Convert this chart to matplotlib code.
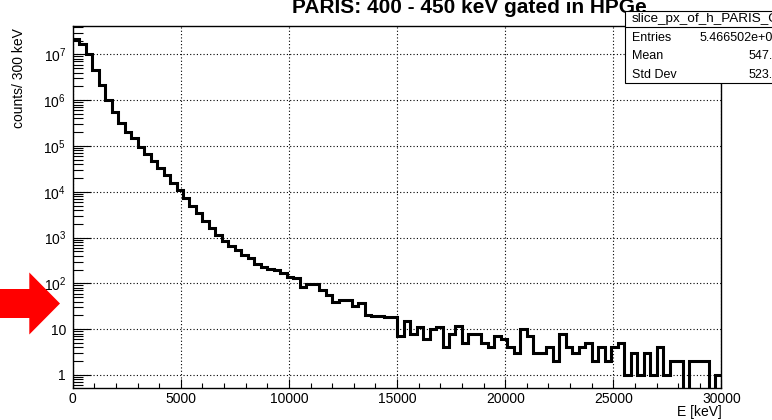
import numpy as np
import matplotlib.pyplot as plt
from matplotlib.patches import Rectangle, Polygon
from matplotlib.lines import Line2D
from matplotlib.ticker import LogLocator, MultipleLocator, NullFormatter

plt.rcParams['font.family'] = ['Liberation Sans', 'DejaVu Sans']
plt.rcParams['mathtext.fontset'] = 'custom'
plt.rcParams['mathtext.rm'] = 'Liberation Sans'
plt.rcParams['mathtext.it'] = 'Liberation Sans:italic'

# 100 bins of 300 keV from 0 to 30 MeV
edges = np.arange(0, 30001, 300)
counts = np.array([
    2.17e7, 1.7e7, 1.0e7, 4.6e6, 2.15e6, 1.0e6, 5.6e5, 3.1e5, 2.07e5, 1.47e5,
    9.7e4, 6.6e4, 4.6e4, 3.25e4, 2.3e4, 1.55e4, 1.07e4, 7.3e3, 4.9e3, 3.45e3,
    2340, 1600, 1120, 850, 650, 530, 420, 350, 270, 230,
    210, 197, 166, 137, 131, 84, 98, 98, 70, 57,
    40, 43, 43, 32, 38, 20, 19, 19, 18, 18,
    7, 15, 8, 11, 6, 10, 11, 4, 8, 12,
    5, 8, 8, 5, 4, 7, 6, 4, 3, 10,
    7, 3, 3, 4, 2, 8, 4, 3, 4, 5,
    2, 4, 2, 4, 5, 1, 3, 1, 3, 1,
    4, 1, 2, 2, 0, 2, 2, 2, 0, 1,
])

title = "PARIS: 400 - 450 keV gated in HPGe"
stats_name = "slice_px_of_h_PARIS_Ge"
stats_rows = [("Entries", "5.466502e+07"), ("Mean", "547.6"), ("Std Dev", "523.4")]

W, H = 772, 420


def fx(px):
    return px / W


def fy(py):
    return 1 - py / H


fig = plt.figure(figsize=(W / 100, H / 100), dpi=100)
ax = fig.add_axes([fx(72.7), fy(387.5), (721.5 - 72.7) / W, (387.5 - 26) / H])

# empty bins drop to the bottom of the frame on the log scale
shown = np.where(counts > 0, counts, 1e-2)
st = ax.stairs(shown, edges, baseline=None, color='black', lw=2.2, zorder=3)
st.set_joinstyle('miter')

ax.set_yscale('log')
ax.set_xlim(0, 30000)
ax.set_ylim(0.533, 4.17e7)

ax.set_xticks(np.arange(0, 30001, 5000))
ax.set_xticklabels([str(v) for v in range(0, 30001, 5000)])
ax.xaxis.set_minor_locator(MultipleLocator(1000))

ax.set_yticks([10.0 ** k for k in range(8)])
ax.set_yticklabels(['1', '10'] + ['$10^{%d}$' % k for k in range(2, 8)])
ax.yaxis.set_minor_locator(LogLocator(base=10, subs=range(2, 10), numticks=20))
ax.yaxis.set_minor_formatter(NullFormatter())

ax.grid(True, which='major', color='black', linestyle=(0, (1, 2)), lw=0.8)
ax.tick_params(which='both', direction='in', top=False, right=False,
               labelsize=10, width=0.8)
ax.tick_params(axis='y', which='major', length=13.3, pad=4.8)
ax.tick_params(axis='y', which='minor', length=7.2)
ax.tick_params(axis='x', which='major', length=6.5, pad=3.2)
ax.tick_params(axis='x', which='minor', length=3.4)
for s in ax.spines.values():
    s.set_linewidth(1.0)

fig.text(fx(292), fy(12.7), title, ha='left', va='baseline',
         fontsize=15, fontweight='bold')
fig.text(fx(19), fy(28), "counts/ 300 keV", rotation=90, ha='center',
         va='top', fontsize=10)
fig.text(fx(722), fy(416), "E [keV]", ha='right', va='baseline', fontsize=10)

# statistics box, running off the right edge
fig.add_artist(Rectangle((fx(625), fy(82.7)), (820 - 625) / W, (82.7 - 11) / H,
                         transform=fig.transFigure, fc='white', ec='black',
                         lw=0.8, zorder=5))
fig.add_artist(Line2D([fx(625), fx(820)], [fy(26.7), fy(26.7)],
                      transform=fig.transFigure, color='black', lw=0.8, zorder=6))
fig.text(fx(632), fy(19), stats_name, ha='left', va='center', fontsize=9.7, zorder=7)
for (name, val), y in zip(stats_rows, [37.7, 56, 75]):
    fig.text(fx(632), fy(y), name, ha='left', va='center', fontsize=9, zorder=7)
    fig.text(fx(780), fy(y), val, ha='right', va='center', fontsize=9, zorder=7)

# red marker arrow on the left
arrow_px = [(-5, 289), (29.3, 289), (29.3, 272.5), (60, 303.5),
            (29.3, 334.5), (29.3, 318), (-5, 318)]
fig.add_artist(Polygon([(fx(x), fy(y)) for x, y in arrow_px], closed=True,
                       transform=fig.transFigure, fc='#ff0000', ec='none',
                       zorder=8))

fig.savefig('out.png', dpi=100)
